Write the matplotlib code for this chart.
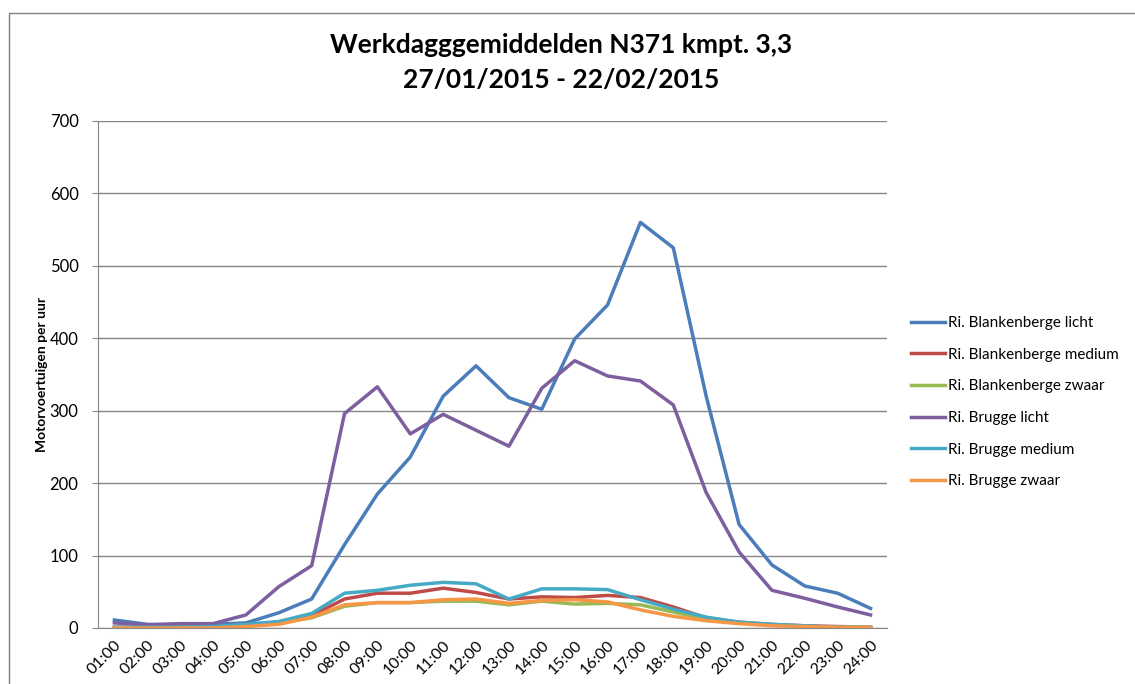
import matplotlib
matplotlib.use("Agg")
import matplotlib.pyplot as plt
from matplotlib.patches import Rectangle

plt.rcParams['font.family'] = ['Lato', 'DejaVu Sans']

hours = ["01:00", "02:00", "03:00", "04:00", "05:00", "06:00", "07:00", "08:00",
         "09:00", "10:00", "11:00", "12:00", "13:00", "14:00", "15:00", "16:00",
         "17:00", "18:00", "19:00", "20:00", "21:00", "22:00", "23:00", "24:00"]

blankenberge_licht = [11, 5, 5, 5, 7, 21, 40, 115, 185, 236, 320, 362, 318, 302,
                      399, 446, 560, 525, 320, 143, 87, 58, 48, 27]
blankenberge_medium = [1, 1, 1, 2, 5, 8, 17, 40, 48, 48, 55, 49, 40, 43,
                       42, 45, 42, 29, 14, 8, 5, 3, 2, 1]
blankenberge_zwaar = [0, 0, 1, 1, 4, 7, 14, 30, 35, 35, 37, 37, 32, 37,
                      33, 34, 32, 22, 12, 7, 4, 2, 1, 1]
brugge_licht = [7, 4, 6, 6, 18, 57, 86, 296, 333, 268, 295, 273, 251, 331,
                369, 348, 341, 308, 187, 105, 52, 41, 29, 18]
brugge_medium = [1, 1, 1, 2, 5, 9, 20, 48, 52, 59, 63, 61, 40, 54,
                 54, 53, 39, 26, 15, 8, 5, 3, 1, 1]
brugge_zwaar = [0, 0, 0, 0, 2, 5, 15, 32, 35, 35, 39, 40, 34, 38,
                39, 36, 25, 16, 10, 6, 3, 2, 1, 1]

series = [
    ("Ri. Blankenberge licht", blankenberge_licht, "#4A7DBA"),
    ("Ri. Blankenberge medium", blankenberge_medium, "#BE4B48"),
    ("Ri. Blankenberge zwaar", blankenberge_zwaar, "#98B954"),
    ("Ri. Brugge licht", brugge_licht, "#7D5F9F"),
    ("Ri. Brugge medium", brugge_medium, "#46AAC5"),
    ("Ri. Brugge zwaar", brugge_zwaar, "#F79646"),
]

fig = plt.figure(figsize=(11.35, 6.84), dpi=100)
fig.patches.append(Rectangle((0.0075, -0.05), 1.1, 0.05 + 1 - 12.5 / 684,
                             transform=fig.transFigure, fill=False,
                             edgecolor="#808080", linewidth=1.0))
ax = fig.add_axes([0.0863, 0.0819, 0.6952, 0.7412])

x = list(range(len(hours)))
lines = []
for name, vals, col in series:
    ln, = ax.plot(x, vals, color=col, linewidth=2.5, label=name)
    lines.append(ln)

ax.set_xlim(-0.5, len(hours) - 0.5)
ax.set_ylim(0, 700)
ax.set_yticks(range(0, 701, 100))
ax.set_xticks(x)
ax.set_xticklabels(hours, rotation=45, ha='right', rotation_mode='anchor', fontsize=11.5)
ax.tick_params(axis='y', labelsize=12, length=4, color="#868686", pad=10)
ax.tick_params(axis='x', length=0, pad=7)
ax.grid(axis='y', color="#868686", linewidth=1.0)
ax.set_axisbelow(True)
for s in ['top', 'right']:
    ax.spines[s].set_visible(False)
ax.spines['left'].set_color("#868686")
ax.spines['bottom'].set_color("#868686")

ax.set_ylabel("Motorvoertuigen per uur", fontsize=10, fontweight='bold', labelpad=1)

fig.text(0.494, 0.934, "Werkdagggemiddelden N371 kmpt. 3,3",
         ha='center', va='center', fontsize=19, fontweight='bold')
fig.text(0.494, 0.883, "27/01/2015 - 22/02/2015",
         ha='center', va='center', fontsize=19, fontweight='bold')

fig.legend(handles=lines, loc='center left', bbox_to_anchor=(0.803, 0.412),
           frameon=False, fontsize=11, handlelength=2.2, handletextpad=0.2,
           labelspacing=1.16, borderpad=0, borderaxespad=0)

fig.savefig("out.png", dpi=100)
